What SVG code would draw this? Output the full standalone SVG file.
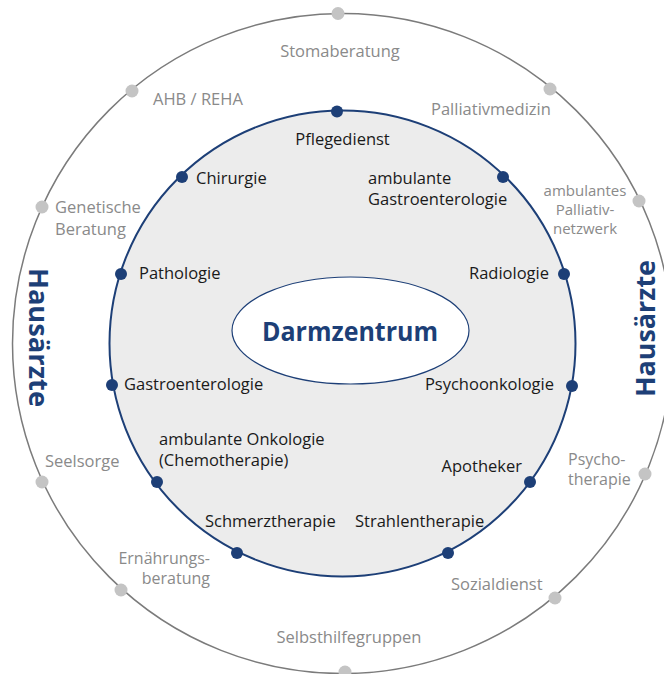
<svg xmlns="http://www.w3.org/2000/svg" width="664" height="674" viewBox="0 0 664 674">
  <style>
    .lbl { font-family: "Open Sans", "Noto Sans", "DejaVu Sans", sans-serif; font-size: 16.5px; fill: #1a1a1a; }
    .ext { font-family: "Open Sans", "Noto Sans", "DejaVu Sans", sans-serif; font-size: 16.5px; fill: #8a8a8a; }
    .two { font-size: 16px; }
    .tight { font-size: 15px; }
    .navy { fill: #1d3f77; }
    .grey { fill: #c4c4c4; }
    .title { font-family: "Open Sans", "Noto Sans", "DejaVu Sans", sans-serif; font-weight: bold; fill: #1d3f77; }
  </style>
  <rect x="0" y="0" width="664" height="674" fill="#ffffff"/>
  <g id="rings">
    <circle cx="342.5" cy="343.5" r="330" fill="none" stroke="#7b7b7b" stroke-width="1.5"/>
    <circle cx="342.5" cy="343.5" r="233" fill="#ececec" stroke="#1d3f77" stroke-width="2"/>
  </g>
  <g id="connectors"></g>
  <g id="darmzentrum">
    <ellipse cx="350.5" cy="330.5" rx="118.5" ry="53.5" fill="#ffffff" stroke="#1d3f77" stroke-width="1.2"/>
    <text class="title" x="350" y="341" font-size="26.5" text-anchor="middle" textLength="176" lengthAdjust="spacingAndGlyphs">Darmzentrum</text>
  </g>
  <g id="hausaerzte-left">
    <text class="title" font-size="26" text-anchor="middle" textLength="139" lengthAdjust="spacingAndGlyphs" transform="translate(29,337.5) rotate(90)">Hausärzte</text>
  </g>
  <g id="hausaerzte-right">
    <text class="title" font-size="26" text-anchor="middle" textLength="137" lengthAdjust="spacingAndGlyphs" transform="translate(655,328.5) rotate(-90)">Hausärzte</text>
  </g>

  <!-- inner nodes -->
  <g id="pflegedienst"><circle class="navy" cx="337" cy="111.5" r="6"/><text class="lbl" x="342.5" y="145" text-anchor="middle">Pflegedienst</text></g>
  <g id="chirurgie"><circle class="navy" cx="182" cy="177" r="6"/><text class="lbl" x="196" y="184">Chirurgie</text></g>
  <g id="ambulante-gastroenterologie"><circle class="navy" cx="503" cy="177" r="6"/><text class="lbl" x="368" y="184">ambulante</text><text class="lbl" x="368" y="205">Gastroenterologie</text></g>
  <g id="pathologie"><circle class="navy" cx="121" cy="274" r="6"/><text class="lbl" x="139" y="279">Pathologie</text></g>
  <g id="radiologie"><circle class="navy" cx="564" cy="274" r="6"/><text class="lbl" x="549" y="279" text-anchor="end">Radiologie</text></g>
  <g id="gastroenterologie"><circle class="navy" cx="112" cy="385" r="6"/><text class="lbl" x="124" y="390">Gastroenterologie</text></g>
  <g id="psychoonkologie"><circle class="navy" cx="572" cy="386" r="6"/><text class="lbl" x="554" y="390" text-anchor="end">Psychoonkologie</text></g>
  <g id="ambulante-onkologie"><circle class="navy" cx="157" cy="482" r="6"/><text class="lbl" x="159" y="445">ambulante Onkologie</text><text class="lbl" x="159" y="466">(Chemotherapie)</text></g>
  <g id="apotheker"><circle class="navy" cx="530" cy="482" r="6"/><text class="lbl" x="522" y="472" text-anchor="end">Apotheker</text></g>
  <g id="schmerztherapie"><circle class="navy" cx="237" cy="553" r="6"/><text class="lbl" x="205" y="527">Schmerztherapie</text></g>
  <g id="strahlentherapie"><circle class="navy" cx="448" cy="553" r="6"/><text class="lbl" x="355" y="527">Strahlentherapie</text></g>

  <!-- outer nodes -->
  <g id="stomaberatung"><circle class="grey" cx="338" cy="13.5" r="6.5"/><text class="ext" x="340" y="57" text-anchor="middle">Stomaberatung</text></g>
  <g id="ahb-reha"><circle class="grey" cx="132" cy="91" r="6.5"/><text class="ext" x="153" y="105">AHB / REHA</text></g>
  <g id="palliativmedizin"><circle class="grey" cx="550" cy="89" r="6.5"/><text class="ext" x="431" y="115">Palliativmedizin</text></g>
  <g id="genetische-beratung"><circle class="grey" cx="42" cy="207" r="6.5"/><text class="ext" x="55" y="213">Genetische</text><text class="ext" x="55" y="235">Beratung</text></g>
  <g id="ambulantes-palliativnetzwerk"><circle class="grey" cx="639" cy="201" r="6.5"/><text class="ext tight" x="585" y="196" text-anchor="middle">ambulantes</text><text class="ext tight" x="585" y="215" text-anchor="middle">Palliativ-</text><text class="ext tight" x="585" y="234" text-anchor="middle">netzwerk</text></g>
  <g id="seelsorge"><circle class="grey" cx="42" cy="482" r="6.5"/><text class="ext" x="45" y="467">Seelsorge</text></g>
  <g id="psychotherapie"><circle class="grey" cx="645" cy="474" r="6.5"/><text class="ext two" x="568" y="464.5">Psycho-</text><text class="ext two" x="568" y="485">therapie</text></g>
  <g id="ernaehrungsberatung"><circle class="grey" cx="121" cy="590" r="6.5"/><text class="ext two" x="210" y="563.5" text-anchor="end">Ernährungs-</text><text class="ext two" x="210" y="584" text-anchor="end">beratung</text></g>
  <g id="sozialdienst"><circle class="grey" cx="555" cy="598" r="6.5"/><text class="ext" x="451" y="590">Sozialdienst</text></g>
  <g id="selbsthilfegruppen"><circle class="grey" cx="345" cy="672" r="6.5"/><text class="ext" x="349" y="643" text-anchor="middle">Selbsthilfegruppen</text></g>
</svg>
